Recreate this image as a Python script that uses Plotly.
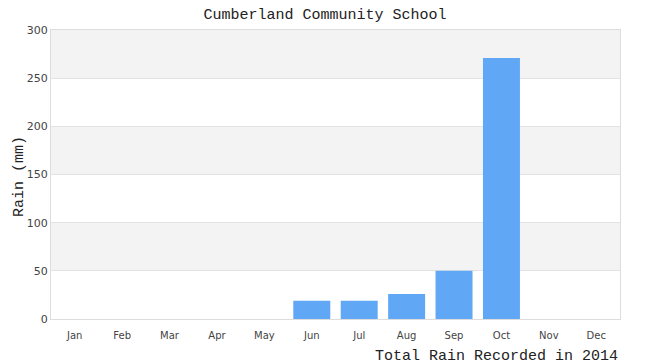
import plotly.graph_objects as go

months = ["Jan", "Feb", "Mar", "Apr", "May", "Jun", "Jul", "Aug", "Sep", "Oct", "Nov", "Dec"]
rain_mm = [0, 0, 0, 0, 0, 19, 19, 26, 50, 271, 0, 0]
y_ticks = [0, 50, 100, 150, 200, 250, 300]
bands = [(50, 100), (150, 200), (250, 300)]

mono = "Liberation Mono, DejaVu Sans Mono, monospace"
sans = "DejaVu Sans, Verdana, sans-serif"

fig = go.Figure()
fig.add_trace(go.Bar(x=months, y=rain_mm, marker=dict(color="#60a8f5", line=dict(width=0)),
                     hoverinfo="x+y"))

for lo, hi in bands:
    fig.add_shape(type="rect", xref="paper", yref="y", x0=0, x1=1, y0=lo, y1=hi,
                  fillcolor="#f3f3f3", line=dict(width=0), layer="below")

fig.update_layout(
    width=650, height=360,
    margin=dict(l=51, r=30, t=30, b=41),
    paper_bgcolor="white", plot_bgcolor="white",
    showlegend=False,
    bargap=0.22,
    title=dict(text="Cumberland Community School", x=0.5, xanchor="center",
               y=1 - 14 / 360, yanchor="middle", yref="container",
               font=dict(family=mono, size=15, color="#222")),
    xaxis=dict(type="category", showgrid=False, showline=True, linecolor="#dddddd",
               mirror=True, ticks="", ticklabelstandoff=7,
               tickfont=dict(family=sans, size=10, color="#444")),
    yaxis=dict(range=[0, 300], tickvals=y_ticks, showgrid=True, gridcolor="#e3e3e3",
               showline=True, linecolor="#dddddd", mirror=True, zeroline=False,
               ticks="", tickfont=dict(family=sans, size=11, color="#444")),
    annotations=[
        dict(text="Total Rain Recorded in 2014", xref="paper", yref="paper",
             x=1, y=(319 - 346) / 289, xanchor="right", yanchor="top", showarrow=False,
             font=dict(family=mono, size=15, color="#222")),
        dict(text="Rain (mm)", xref="paper", yref="paper", textangle=-90,
             x=(19 - 51) / 569, y=(319 - 177) / 289, xanchor="center", yanchor="middle",
             showarrow=False, font=dict(family=mono, size=15, color="#222")),
    ],
)

fig.write_html("out.html")
